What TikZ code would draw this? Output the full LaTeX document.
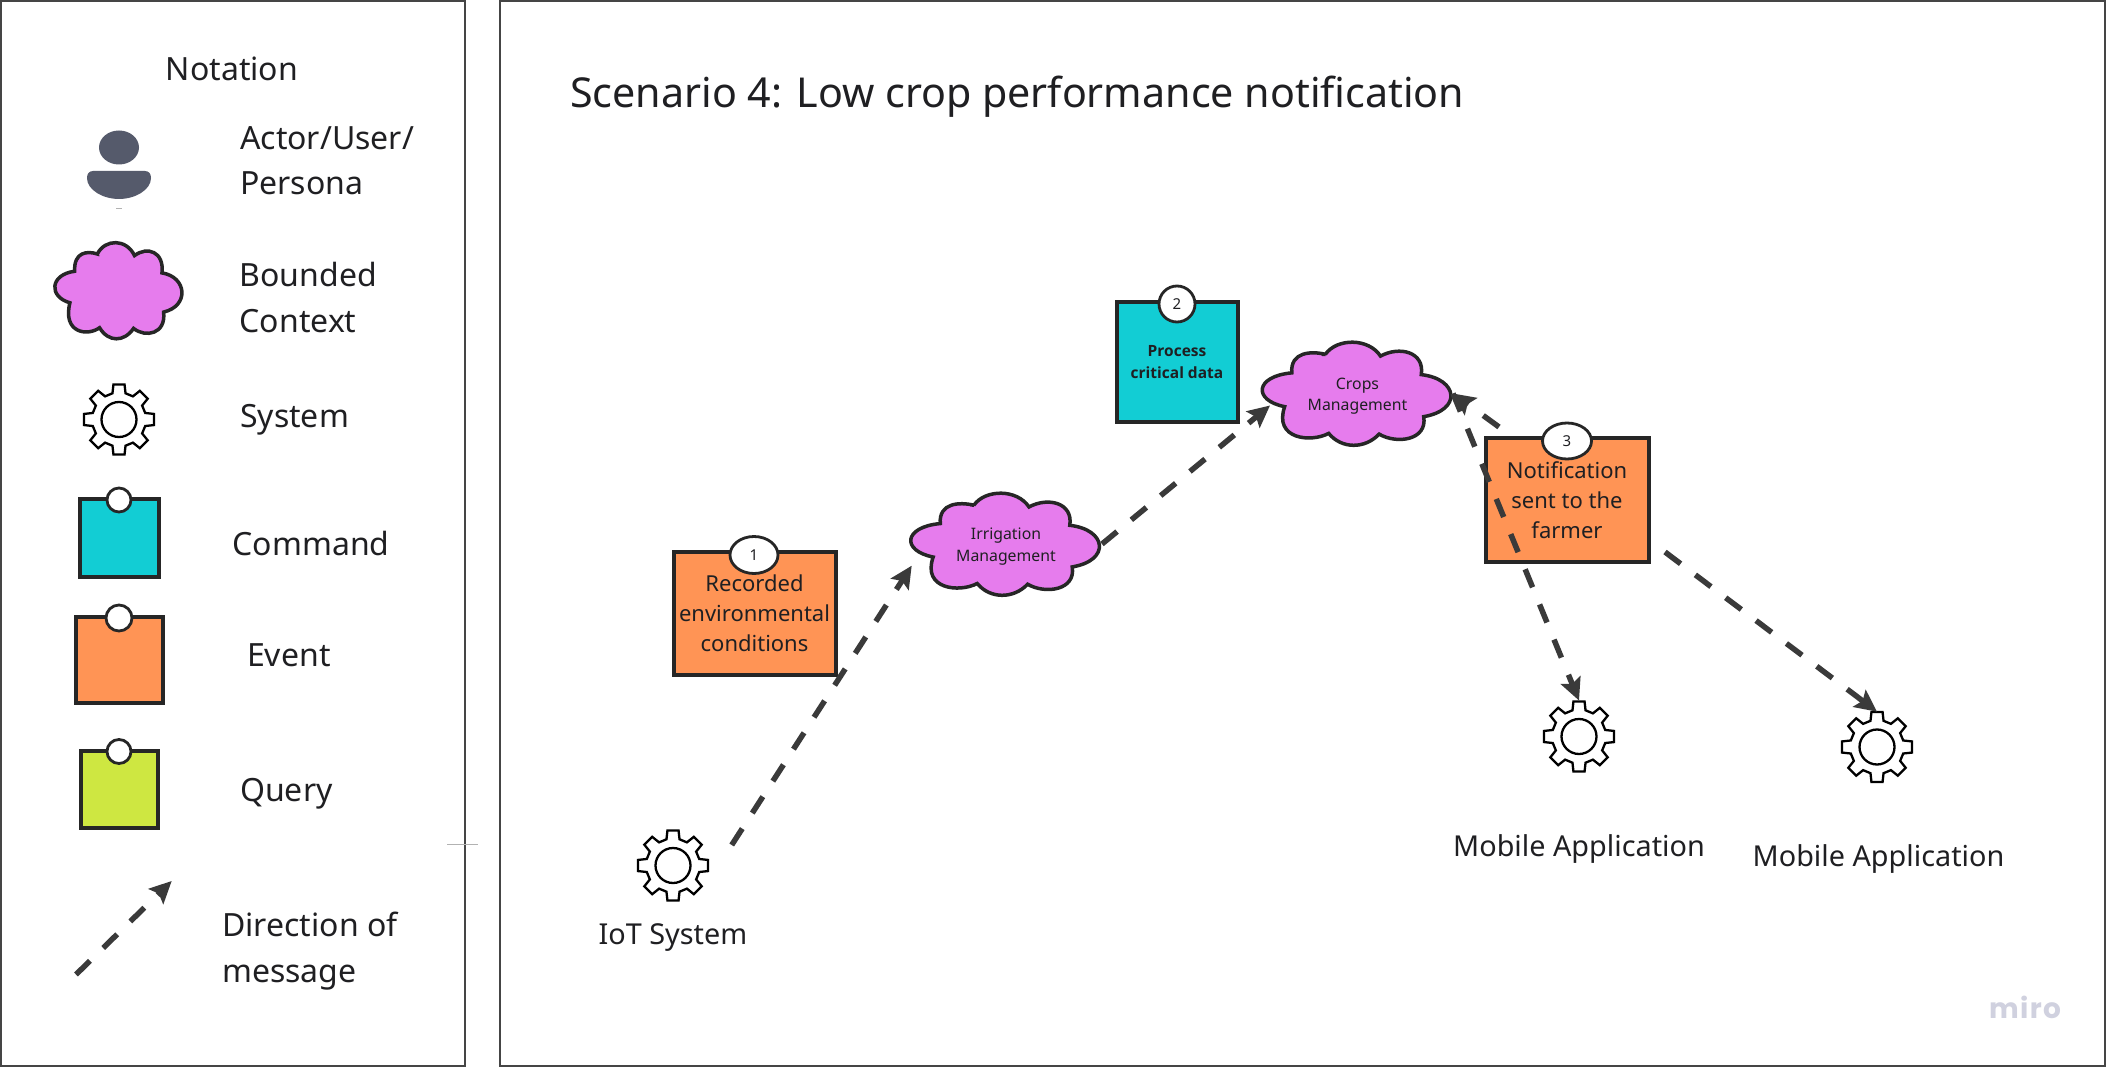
\documentclass[tikz,border=0pt]{standalone}
\usepackage{fontspec}
\setmainfont{Noto Sans}
\newfontfamily\boldface{Open Sans}[BoldFont={Open Sans Bold}]
\newfontfamily\mirofont{Poppins}[LetterSpace=5]
\usetikzlibrary{arrows.meta,shapes.geometric,calc}
\definecolor{inkc}{HTML}{1F1F22}
\definecolor{edgec}{HTML}{262626}
\definecolor{flowc}{HTML}{3A3A3A}
\definecolor{panelc}{HTML}{454545}
\definecolor{cloudc}{HTML}{E67CED}
\definecolor{cmdc}{HTML}{12CDD4}
\definecolor{evtc}{HTML}{FF9455}
\definecolor{qryc}{HTML}{CEE741}
\definecolor{actorc}{HTML}{555A6B}
\definecolor{miroc}{HTML}{D0D1DF}
\tikzset{
  x=1pt,y=-1pt,
  panel/.style={draw=panelc,line width=2pt},
  label/.style={text=inkc,font=\fontsize{32}{45.8}\selectfont,inner sep=0pt,align=left,anchor=base west},
  syslabel/.style={text=inkc,font=\fontsize{28.8}{40}\selectfont,inner sep=0pt,anchor=base},
  note/.style={draw=edgec,line width=4pt,inner sep=0pt,align=center,text=inkc},
  badge/.style={ellipse,draw=edgec,fill=white,line width=2.8pt,inner sep=0pt,text=inkc,font=\fontsize{15}{18}\selectfont},
  evtxt/.style={font=\fontsize{22}{30.2}\selectfont},
  cloudline/.style={draw=edgec,fill=cloudc,line width=3.5pt},
  cloudtxt/.style={inner sep=0pt,align=center,text=inkc,font=\fontsize{15.8}{21.5}\selectfont},
  flow/.style={draw=flowc,line width=5.5pt,dash pattern=on 19.5pt off 18.5pt,-{Stealth[length=22pt,width=21pt,inset=4pt]}},
  gearline/.style={draw=black,fill=white,line width=2.3pt},
  speck/.style={draw=gray!60,line width=.5pt},
}
\newcommand{\cloudat}[6]{%
  \begin{scope}[shift={(#2,#3)},xscale=#4/2,yscale=#5/2]
    \path[cloudline] (-.344,-.753)
      .. controls (-.22,-1.07) and (.12,-1.07) .. (.246,-.719)
      .. controls (.45,-.92) and (.72,-.8) .. (.682,-.363)
      .. controls (1.08,-.28) and (1.12,.32) .. (.708,.445)
      .. controls (.75,.9) and (.42,.98) .. (.231,.781)
      .. controls (.08,1.07) and (-.17,1.07) .. (-.308,.767)
      .. controls (-.5,.95) and (-.9,.88) .. (-.779,.253)
      .. controls (-1.12,.13) and (-1.1,-.33) .. (-.703,-.397)
      .. controls (-.72,-.8) and (-.5,-.82) .. cycle;
  \end{scope}
  \node[cloudtxt,minimum width=#4,minimum height=#5] (#1) at ($(#2,#3)+(0,2.5)$) {#6};
}
\newcommand{\gearat}[3]{%
  \begin{scope}[shift={(#2,#3)}]
    \draw[gearline] (-14:27pt) foreach \a in {0,45,...,315} { -- (\a-14:27pt) -- (\a-9:35.5pt) -- (\a+9:35.5pt) -- (\a+14:27pt) } -- cycle;
    \draw[gearline] (0,0) circle (17.5pt);
  \end{scope}
  \node[circle,inner sep=0pt,minimum size=72pt] (#1) at (#2,#3) {};
}
\begin{document}
\begin{tikzpicture}
\useasboundingbox (0,0) rectangle (2107,1067);
\fill[white] (0,0) rectangle (2107,1067);
\draw[panel] (1,1) rectangle (465,1066);
\draw[panel] (500,1) rectangle (2105,1066);

% legend
\node[label,anchor=base] (notation) at (232,80.5) {Notation};
\fill[actorc] (119,147.5) ellipse [x radius=20,y radius=17];
\fill[actorc] (93,171) -- (145,171) .. controls (149,171) and (151,174) .. (151,178) .. controls (151,190) and (135,199) .. (119,199) .. controls (103,199) and (87,190) .. (87,178) .. controls (87,174) and (89,171) .. cycle;
\draw[speck] (116,208) -- (122,208);
\node[label] (lactor) at (240,195) {Actor/User/\\Persona};
\cloudat{lcloud}{119}{290.5}{126}{97}{}
\node[label] (lbc) at (239.5,332.5) {Bounded\\Context};
\gearat{lgear}{119}{419.5}
\node[label] (lsys) at (240,427) {System};
\node[note,fill=cmdc,minimum width=79,minimum height=78] (lcmd) at (119,538) {};
\node[badge,minimum width=24,minimum height=24] (lcmdb) at (119,500) {};
\node[label] (lcmdt) at (232.5,555) {Command};
\node[note,fill=evtc,minimum width=87,minimum height=86] (levt) at (119,660) {};
\node[badge,minimum width=26,minimum height=26] (levtb) at (119,618) {};
\node[label] (levtt) at (247,666) {Event};
\node[note,fill=qryc,minimum width=77,minimum height=77] (lqry) at (119,789) {};
\node[badge,minimum width=24,minimum height=24] (lqryb) at (119,751.5) {};
\node[label] (lqryt) at (240,801) {Query};
\coordinate (larrs) at (76,974.5);
\coordinate (larre) at (171.7,881);
\draw[flow] (larrs) -- (larre);
\node[label] (ldir) at (222,982) {Direction of\\message};
\draw[speck] (447,844) -- (478,844);

% scenario
\node[text=inkc,font=\fontsize{41.2}{50}\selectfont,inner sep=0pt,anchor=base west] (title) at (570,107.5) {Scenario 4: Low crop performance notification};

\node[note,fill=evtc,evtxt,minimum width=162,minimum height=123] (b1) at (754.5,613.5) {Recorded\\environmental\\conditions};
\node[badge,minimum width=48,minimum height=37] (b1n) at (754,555) {1};
\node[note,fill=cmdc,minimum width=121,minimum height=120,font=\fontsize{15.5}{21.7}\boldface\bfseries] (b2) at (1177,362) {Process\\critical data};
\node[badge,minimum width=36,minimum height=36] (b2n) at (1177,304) {2};
\node[note,fill=evtc,evtxt,minimum width=163,minimum height=123.5] (b3) at (1567,500) {Notification\\sent to the\\farmer};
\node[badge,minimum width=49,minimum height=36] (b3n) at (1567,441) {3};

\cloudat{irr}{1006}{544}{187}{103}{Irrigation\\Management}
\cloudat{crops}{1357.5}{393.5}{187}{104}{Crops\\Management}

\gearat{iot}{673}{865.5}
\node[syslabel] (iott) at (673,944) {IoT System};
\gearat{mob1}{1579}{736.5}
\node[syslabel] (mob1t) at (1579,856.5) {Mobile Application};
\gearat{mob2}{1877}{747}
\node[syslabel] (mob2t) at (1878.5,866) {Mobile Application};

\draw[flow] ($(iot)+(58.7,-20.5)$) -- (911.7,565.7);
\draw[flow] ($(irr)+(96,-2.5)$) -- ($(crops)+(-87.5,9.5)$);
\draw[flow] ($(b3)+(-68,-73)$) -- ($(crops)+(95.5,-2.5)$);
\draw[flow] ($(crops)+(95.5,-2.5)$) -- ($(mob1)+(0,-36)$);
\draw[flow] ($(b3)+(98,52)$) -- ($(mob2)+(0,-35.3)$);

\node[text=miroc,font=\fontsize{28}{34}\mirofont\bfseries,inner sep=0pt,anchor=base] (miro) at (2025,1018) {miro};
\end{tikzpicture}
\end{document}
